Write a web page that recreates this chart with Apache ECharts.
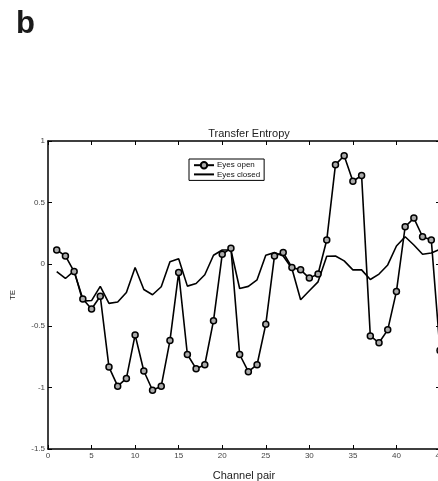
<!DOCTYPE html>
<html>
<head>
<meta charset="utf-8">
<script src="https://cdn.jsdelivr.net/npm/echarts@6/dist/echarts.min.js"></script>
<style>
  html, body { margin: 0; padding: 0; background: #fff; }
  #chart { width: 438px; height: 481px; }
</style>
</head>
<body>
<div id="chart"></div>
<script>
// Channel pair index 1..45
const channelPairs = Array.from({ length: 45 }, (_, i) => i + 1);

// Transfer entropy per channel pair, eyes open
const eyesOpen = [
  0.115, 0.067, -0.06, -0.283, -0.364, -0.26, -0.835, -0.99, -0.927, -0.574,
  -0.867, -1.023, -0.99, -0.62, -0.068, -0.733, -0.848, -0.816, -0.458, 0.08,
  0.13, -0.733, -0.872, -0.816, -0.488, 0.067, 0.094, -0.027, -0.046, -0.113,
  -0.08, 0.196, 0.808, 0.88, 0.673, 0.72, -0.582, -0.638, -0.533, -0.221,
  0.304, 0.374, 0.223, 0.196, -0.70
];

// Transfer entropy per channel pair, eyes closed
const eyesClosed = [
  -0.06, -0.116, -0.054, -0.30, -0.295, -0.18, -0.318, -0.307, -0.229, -0.027,
  -0.205, -0.248, -0.183, 0.019, 0.045, -0.178, -0.157, -0.086, 0.073, 0.115,
  0.115, -0.197, -0.18, -0.127, 0.073, 0.094, 0.067, -0.035, -0.288, -0.215,
  -0.143, 0.065, 0.067, 0.027, -0.046, -0.046, -0.124, -0.08, -0.006, 0.148,
  0.223, 0.156, 0.081, 0.091, 0.12
];

const font = '"Liberation Sans", Arial, Helvetica, sans-serif';
const pairs = (ys) => channelPairs.map((x, i) => [x, ys[i]]);

const frameLine = { onZero: false, lineStyle: { color: '#000', width: 1.5 } };
const innerTick = { show: true, inside: true, length: 4, lineStyle: { color: '#000', width: 1 } };

const chart = echarts.init(document.getElementById('chart'));
chart.setOption({
  animation: false,
  backgroundColor: '#fff',
  title: [
    { text: 'b', left: 11, top: 4,
      textStyle: { fontFamily: font, fontSize: 31, fontWeight: 'bold', color: '#1a1a1a' } },
    { text: 'Transfer Entropy', left: 244, top: 123, textAlign: 'center',
      textStyle: { fontFamily: font, fontSize: 11, fontWeight: 'normal', color: '#222' } }
  ],
  legend: {
    orient: 'vertical',
    left: 189, top: 159,
    padding: [2, 4, 2, 4],
    itemGap: 1,
    itemWidth: 20, itemHeight: 8,
    borderColor: '#000', borderWidth: 1, borderRadius: 0,
    textStyle: { fontFamily: font, fontSize: 8, color: '#111', padding: [0, 0, 0, -2] },
    data: [
      { name: 'Eyes open' },
      { name: 'Eyes closed', itemStyle: { opacity: 0 } }
    ]
  },
  grid: {
    left: 48, right: -2, top: 141, bottom: 32,
    containLabel: false, outerBoundsMode: 'none'
  },
  xAxis: [
    {
      type: 'value', min: 0, max: 45, interval: 5, position: 'bottom',
      name: 'Channel pair', nameLocation: 'middle', nameGap: 21,
      nameTextStyle: { fontFamily: font, fontSize: 11, color: '#222' },
      axisLine: frameLine, axisTick: innerTick,
      axisLabel: { fontFamily: font, fontSize: 8, color: '#444', margin: 3 },
      splitLine: { show: false }
    },
    {
      type: 'value', min: 0, max: 45, interval: 5, position: 'top',
      axisLine: frameLine, axisTick: innerTick,
      axisLabel: { show: false },
      splitLine: { show: false }
    }
  ],
  yAxis: [
    {
      type: 'value', min: -1.5, max: 1, interval: 0.5, position: 'left',
      name: 'TE', nameLocation: 'middle', nameGap: 31,
      nameTextStyle: { fontFamily: font, fontSize: 8, color: '#222' },
      axisLine: { show: true, ...frameLine }, axisTick: innerTick,
      axisLabel: { fontFamily: font, fontSize: 8, color: '#444', margin: 3 },
      splitLine: { show: false }
    },
    {
      type: 'value', min: -1.5, max: 1, interval: 0.5, position: 'right',
      axisLine: { show: true, ...frameLine }, axisTick: innerTick,
      axisLabel: { show: false },
      splitLine: { show: false }
    }
  ],
  series: [
    {
      name: 'Eyes open', type: 'line', data: pairs(eyesOpen),
      symbol: 'circle', symbolSize: 6, showAllSymbol: true,
      lineStyle: { color: '#000', width: 1.6 },
      itemStyle: { color: '#aaa', borderColor: '#000', borderWidth: 1.5 },
      z: 3
    },
    {
      name: 'Eyes closed', type: 'line', data: pairs(eyesClosed),
      symbol: 'none',
      lineStyle: { color: '#000', width: 1.6 },
      itemStyle: { color: '#000' },
      z: 2
    }
  ]
});
</script>
</body>
</html>
